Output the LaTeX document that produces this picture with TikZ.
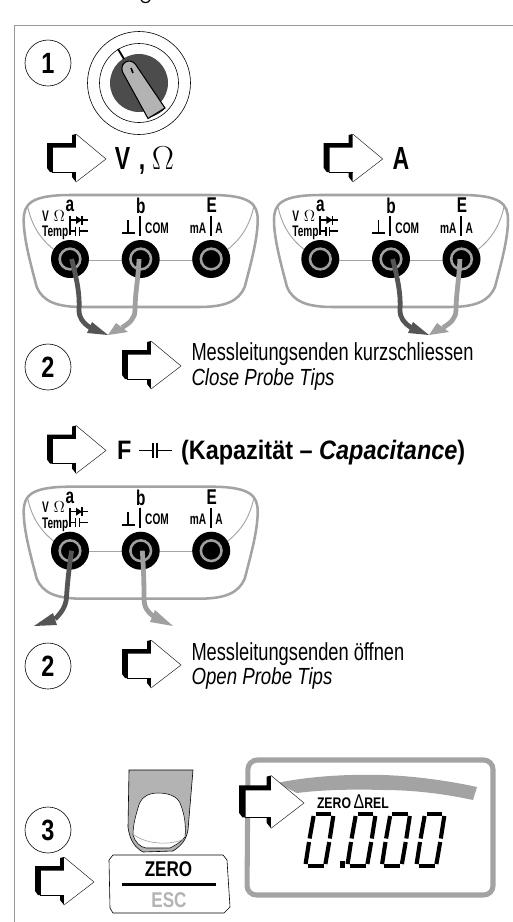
\documentclass[tikz,border=0pt]{standalone}
\usepackage{fontspec}
\setmainfont{Liberation Sans}
\newfontfamily\cn[FakeStretch=0.72]{Liberation Sans}
\newfontfamily\cnn[FakeStretch=0.66]{Liberation Sans}
\newfontfamily\cnm[FakeStretch=0.8]{Liberation Sans}
\newfontfamily\cnt[FakeStretch=0.74]{Liberation Sans}
\newfontfamily\cnh[FakeStretch=0.88]{Liberation Sans}
\newfontfamily\ser{Liberation Serif}
\newcommand{\fsz}[1]{\fontsize{#1pt}{#1pt}\selectfont}
\definecolor{shellgray}{HTML}{A3A3A3}
\definecolor{leaddk}{HTML}{555555}
\definecolor{leadlt}{HTML}{A0A0A0}
\definecolor{framegray}{HTML}{999999}
\definecolor{fingergray}{HTML}{B3B3B3}
\tikzset{
  txt/.style={inner sep=0pt,outer sep=0pt},
  numcircle/.style={circle,draw=black,line width=0.45pt,minimum size=34.5pt,inner sep=0pt,font=\cnm\bfseries\fsz{22}},
  socket/.style={circle,fill=black,minimum size=28.5pt,inner sep=0pt},
  ring/.style={circle,draw=leadlt,line width=1.9pt,minimum size=15.5pt,inner sep=0pt},
  pinlbl/.style={txt,font=\cn\bfseries\fsz{16}},
  smlbl/.style={txt,font=\cnn\bfseries\fsz{11.5}},
  shell/.style={draw=shellgray,line width=1.9pt},
  thinshell/.style={draw=shellgray,line width=0.7pt},
  bar/.style={line width=1.5pt},
  sym/.style={line width=1pt},
  gnd/.style={line width=1.3pt},
  leaddkst/.style={draw=leaddk,line width=3.6pt},
  leadltst/.style={draw=leadlt,line width=3.6pt},
  seg/.style={line width=3.1pt},
  bigt/.style={txt,anchor=west,font=\cnt\fsz{18.5}},
  hdt/.style={txt,anchor=base,font=\cn\bfseries\fsz{24}},
}
\newcommand{\bigarr}[4]{%
\begin{scope}[shift={(#2,#3)},scale=#4]
  \fill[black] (-59,-16)--(-34,-16)--(-34,-24)--(-30,-25)--(0,0)--(-30,23)--(-34,18)--(-34,13)--(-56,13)--(-59,9)--cycle;
  \fill[white] (-53,-11.5)--(-30,-11.5)--(-30,-25)--(0,0)--(-30,23)--(-30,13)--(-53,13)--cycle;
  \draw[line width=0.35pt,black!80] (-30,-25)--(0,0)--(-30,23);
  \draw[line width=0.7pt] (-54,13)--(-30,13);
  \coordinate (#1) at (0,0);
\end{scope}}
\newcommand{\panel}[3]{%
\begin{scope}[shift={(#2,#3)}]
  \draw[shell] (-58,48) .. controls (-85,48) and (-98,42) .. (-104,28)
     .. controls (-110,5) and (-117,-20) .. (-117,-39)
     .. controls (-117,-55) and (-110,-64) .. (-70,-64) -- (70,-64)
     .. controls (110,-64) and (117,-55) .. (117,-39)
     .. controls (117,-20) and (110,5) .. (104,28)
     .. controls (98,42) and (85,48) .. (58,48) -- cycle;
  \draw[thinshell] (-113,-52) .. controls (-108,-30) and (-98,-18) .. (-85,-8);
  \draw[thinshell] (113,-52) .. controls (108,-30) and (98,-18) .. (85,-8);
  \draw[thinshell] (-52,1) -- (52,1);
  \node[socket] (#1-a) at (-70.7,0) {};
  \node[socket] (#1-b) at (0,0) {};
  \node[socket] (#1-e) at (70.5,0) {};
  \node[ring] (#1-ra) at (-70.7,0) {};
  \node[ring] (#1-rb) at (0,0) {};
  \node[ring] (#1-re) at (70.5,0) {};
  \node[pinlbl] (#1-la) at (-70.7,-53) {a};
  \node[pinlbl] (#1-lb) at (0,-53) {b};
  \node[pinlbl] (#1-le) at (71,-54) {E};
  \node[smlbl,align=left,font=\cnn\bfseries\fsz{11.5}] (#1-t) at (-85.5,-34) {\fontsize{11.5pt}{9pt}\selectfont V\hspace{3.6pt}{\ser\fsz{11.5}$\Omega$}\\Temp};
  \draw[bar] (-70.7,-43) -- (-70.7,-24);
  \draw[sym] (-70.7,-39) -- (-52.7,-39);
  \fill (-64.7,-43) -- (-58.7,-39) -- (-64.7,-35) -- cycle;
  \draw[sym] (-58.7,-43.5) -- (-58.7,-34.5);
  \draw[sym] (-70.7,-28) -- (-65,-28) (-61.5,-28) -- (-52.7,-28);
  \draw[sym] (-65,-32.5) -- (-65,-23.5) (-61.5,-32.5) -- (-61.5,-23.5);
  \draw[gnd] (-19,-26) -- (-5.7,-26);
  \draw[gnd] (-12.5,-39) -- (-12.5,-26);
  \draw[bar] (-0.7,-43) -- (-0.7,-23);
  \node[smlbl] (#1-com) at (16.3,-31) {COM};
  \node[smlbl] (#1-ma) at (57.3,-31) {mA};
  \draw[bar] (70.3,-43) -- (70.3,-23);
  \node[smlbl] (#1-aa) at (78.3,-31) {A};
\end{scope}}
\newcommand{\shortleads}[3]{%
\begin{scope}[shift={(#3,0)}]
  \coordinate (#1tip) at (108,335);
  \fill[leadlt] (116,323)--(128,332)--(#1tip)--cycle;
  \draw[leadltst] ([xshift=-1.2pt]#2.center) .. controls (138,280) and (135,295) .. (135,310) .. controls (135,318) and (130,323) .. (122,327.5);
  \fill[leaddk] (92,322)--(87,333)--(#1tip)--cycle;
  \draw[leaddkst] ([xshift=1.2pt]#1.center) .. controls (77,280) and (80,295) .. (79,310) .. controls (79,318) and (83,323) .. (90,327.5);
\end{scope}}
\newcommand{\digit}[1]{%
\begin{scope}[shift={(#1,0)}]
  \draw[seg] (1.6,864) -- (5,842);
  \draw[seg] (5.6,838.5) -- (9.6,816);
  \draw[seg] (11.5,813.7) -- (27,813.7);
  \draw[seg] (29.3,816) -- (25.8,838.5);
  \draw[seg] (25.2,842) -- (21.4,864);
  \draw[seg] (3.5,866.3) -- (19.5,866.3);
\end{scope}}
\begin{document}
\begin{tikzpicture}[x=0.75pt,y=-0.75pt]
\useasboundingbox (0,0) rectangle (513,922);
% frame
\draw[framegray,line width=0.75pt] (14.5,922) -- (14.5,25.5) -- (513,25.5);
\draw[line width=0.9pt] (141,0) .. controls (143,3.5) and (148,3.5) .. (150,0);
% step 1
\node[numcircle] (n1) at (48,63) {1};
\draw[line width=0.45pt] (139,83) circle (51.5);
\draw[line width=0.45pt] (139,83) circle (39.5);
\fill[black!70] (139,83) circle (29);
\draw[line width=1.4pt] (118,49) -- (124,59);
\draw[fill=fingergray,draw=black,line width=0.8pt] (122.5,72)
  .. controls (119,62) and (131,57) .. (136,65) -- (165,108) -- (148,118.5) -- cycle;
\draw[line width=0.5pt] (150,117) .. controls (156,115) and (161,112) .. (164,109);
\draw[line width=1.2pt] (131,68) -- (133,73);
\draw[black!30,line width=1.2pt] (153,106) -- (155,113);
% top arrows
\bigarr{ar1}{106}{159}{1}
\node[hdt] (tv) at (122.5,169) {V};
\node[hdt] (tc) at (142,169) {,};
\node[txt,anchor=base,font=\ser\fsz{26}] (to) at (163,169) {$\Omega$};
\bigarr{ar2}{382.7}{159}{1}
\node[hdt] (ta) at (401,169) {A};
% panels
\panel{p1}{140.7}{259}
\panel{p2}{391}{259}
\shortleads{p1-a}{p1-b}{0}
\shortleads{p2-b}{p2-e}{321}
% step 2 (short)
\node[numcircle] (n2) at (48,367) {2};
\bigarr{ar3}{181}{366}{1}
\node[bigt] (m1) at (191.5,354) {Messleitungsenden kurzschliessen};
\node[bigt,font=\cnm\itshape\fsz{17.5}] (m2) at (191.5,379) {Close Probe Tips};
% capacitance
\bigarr{ar4}{106}{450.5}{1}
\node[txt,anchor=base west,font=\cnh\bfseries\fsz{20}] (tf) at (117,459) {F};
\draw[line width=1.3pt] (139,450.5) -- (152.7,450.5) (157,450.5) -- (171.7,450.5);
\draw[line width=1.3pt] (152.7,443) -- (152.7,458) (157,443) -- (157,458);
\node[txt,anchor=base west,font=\cnh\bfseries\fsz{20}] (tk) at (181,459) {(Kapazität – \textit{Capacitance})};
\panel{p3}{140.7}{550.7}
\coordinate (t3a) at (34,626);
\coordinate (t3b) at (173,626);
\fill[leaddk] (53,613)--(57,625)--(t3a)--cycle;
\draw[leaddkst] ([xshift=1.2pt]p3-a.center) .. controls (68,575) and (67,590) .. (66.5,597) .. controls (66,606) and (62,612) .. (55,619);
\fill[leadlt] (155,610)--(150,622)--(t3b)--cycle;
\draw[leadltst] ([xshift=1.2pt]p3-b.center) .. controls (144,575) and (144,590) .. (144,598) .. controls (144,608) and (148,612) .. (153,616);
% step 2 (open)
\node[numcircle] (n4) at (48,666) {2};
\bigarr{ar5}{181}{665}{1}
\node[bigt] (m3) at (191.5,654) {Messleitungsenden öffnen};
\node[bigt,font=\cnm\itshape\fsz{17.5}] (m4) at (191.5,678) {Open Probe Tips};
% step 3
\node[numcircle] (n3) at (48,830) {3};
\draw[fill=fingergray,line width=0.45pt] (129,770) -- (193,770) -- (188,830)
  .. controls (186,840) and (182,845) .. (173,851) -- (143,852)
  .. controls (136,848) and (130,842) .. (128,827) -- cycle;
\draw[fill=white,line width=0.4pt] (158,793)
  .. controls (146,793) and (140,799) .. (138,808)
  .. controls (135,818) and (133,826) .. (133,835)
  .. controls (135,842) and (140,847) .. (146,848)
  -- (170,848) .. controls (176,845) and (181,842) .. (185,837)
  .. controls (186,826) and (185,815) .. (180,803)
  .. controls (177,796) and (168,793) .. (158,793) -- cycle;
\draw[black!40,line width=0.4pt] (134,835) .. controls (148,845) and (172,845) .. (184,839);
\draw[line width=0.45pt] (113,855) -- (223,855) -- (227,860) -- (230,907) -- (224,913) -- (113,913) -- (110,908) -- (109,860) -- cycle;
\bigarr{ar6}{94}{882}{1}
\node[txt,font=\cnm\bfseries\fsz{16}] (kz) at (168.5,869) {ZERO};
\draw[line width=2.2pt] (122,884.5) -- (216,884.5);
\node[txt,text=fingergray,font=\cnm\bfseries\fsz{16}] (ke) at (169,900.5) {ESC};
% display
\draw[shellgray,line width=3.8pt,rounded corners=7pt] (248,760) -- (493,760) -- (493,895) -- (247,895) -- cycle;
\fill[shellgray] (277,783) .. controls (310,776) and (350,774) .. (383,775) .. controls (415,776) and (450,781) .. (477,787)
  -- (473,800) .. controls (445,794) and (415,790) .. (383,790) .. controls (350,789) and (320,790) .. (297,793) -- cycle;
\bigarr{ar7}{304}{803}{1.1}
\node[txt,anchor=base west,font=\cnm\fsz{11.5}] (lz) at (317,808.5) {\textbf{ZERO}\,{\fsz{15}Δ}\textbf{REL}};
\digit{304}
\digit{346}
\digit{380.5}
\digit{415}
\fill (340,861) rectangle (345,868);
\end{tikzpicture}
\end{document}
